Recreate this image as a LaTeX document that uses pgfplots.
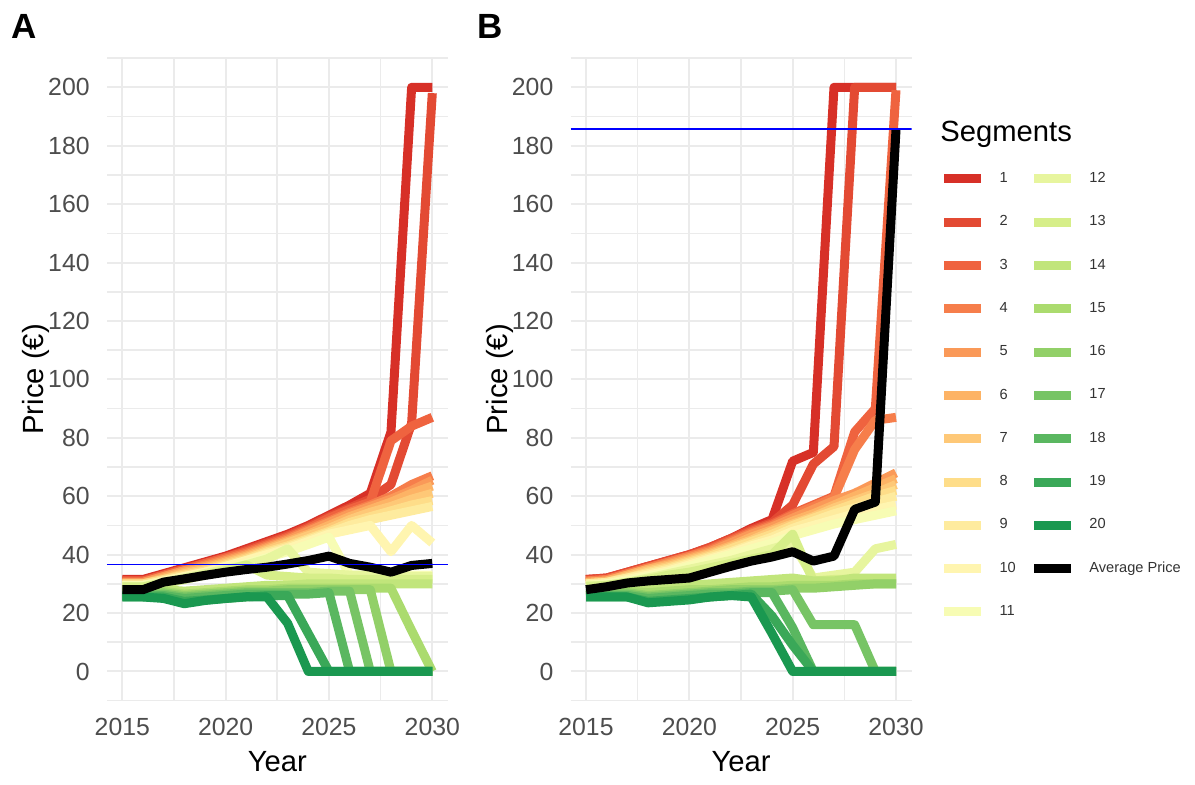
\documentclass[border=0pt]{standalone}
\usepackage{pgfplots}
\pgfplotsset{compat=1.18}
\usepackage{pgfplotstable}
\usepackage{fontspec}
\setmainfont{Liberation Sans}

\definecolor{c1}{HTML}{D73027}
\definecolor{c2}{HTML}{E34A33}
\definecolor{c3}{HTML}{EF633F}
\definecolor{c4}{HTML}{F67E4B}
\definecolor{c5}{HTML}{FA9958}
\definecolor{c6}{HTML}{FDB365}
\definecolor{c7}{HTML}{FEC877}
\definecolor{c8}{HTML}{FEDD89}
\definecolor{c9}{HTML}{FEEB9E}
\definecolor{c10}{HTML}{FFF5B0}
\definecolor{c11}{HTML}{F7FCB4}
\definecolor{c12}{HTML}{E7F59E}
\definecolor{c13}{HTML}{D6EE89}
\definecolor{c14}{HTML}{C1E57B}
\definecolor{c15}{HTML}{ABDB6E}
\definecolor{c16}{HTML}{92D068}
\definecolor{c17}{HTML}{77C465}
\definecolor{c18}{HTML}{5AB760}
\definecolor{c19}{HTML}{3AA858}
\definecolor{c20}{HTML}{1A9850}
\definecolor{gridc}{HTML}{EBEBEB}
\definecolor{tickc}{HTML}{4D4D4D}
\definecolor{legc}{HTML}{333333}

\pgfplotstableread{
year s1 s2 s3 s4 s5 s6 s7 s8 s9 s10 s11 s12 s13 s14 s15 s16 s17 s18 s19 s20 avg
2015 31.5 31 31 30.5 30.5 30 30 30 29.5 29.5 29.5 29 29 27.5 27 26.5 26 26 25.5 25.5 28
2016 31.5 31 31 30.5 30.5 30 30 30 29.5 29.5 29.5 29 29 27.5 27 26.5 26 26 25.5 25.5 28
2017 33.5 33 33 32.5 32.5 32 31.5 31.5 31 31 30.5 30.5 30 28 27.5 27 26.5 26 25.5 25 30.6
2018 35.5 35 35 34.5 34.5 34 33.5 33 32.5 32.5 32 32 31.5 27.5 26.5 26 25.5 25 24 23.2 31.7
2019 37.5 37 37 36.5 36 35.5 35 34.5 34 34 33.5 33.5 33 28 27 26.5 26 25.5 24.5 24.3 32.9
2020 39.5 39 39 38.5 38 37.5 37 36.5 36 36 35 35 34.5 28.5 27.5 27 26.5 26 25 25 34
2021 42 41.5 41 40.5 40 39.5 39 38.5 38 38 37 36.5 36.5 29 28 27.5 27 26.5 25.5 25.6 34.9
2022 44.5 44 43.5 43 42.5 42 41.5 41 40.5 40 39 38.5 33 29.5 28 27.5 27 26.5 26 25.5 35.7
2023 47 46.5 46 45.5 45 44.5 44 43 42.5 42 41 42 32.5 29.5 28.5 28 27 26.5 26 16.5 36.8
2024 50 49.5 49 48.5 48 47 46.5 45.5 45 44.5 43.5 34 32 30 28.5 28 27 26.5 13 0 38
2025 53.5 53 52.5 51.5 51 50 49 48 47.5 47 46 33.5 32 30 28.5 28 27.5 27 0 0 39.5
2026 57 56 55.5 54.5 54 53 52 51 50 48.5 33 33 31.5 30 28.5 28 27.5 0 0 0 37
2027 61 59 58 57 56.5 55.5 54.5 53 52 50 33 33 31.5 30 28.5 28 0 0 0 0 35.7
2028 82 64 79 60 59 58 56.5 55 53.5 41 33 32.5 31.5 30 28.5 0 0 0 0 0 34
2029 200 85 84 64 62 61 59 57 55 50 33 32.5 31.5 30 14 0 0 0 0 0 36.3
2030 200 198 87 67 65.5 63.5 61 58.5 56.5 44 33 32.5 31.5 30 0 0 0 0 0 0 37
}\tabA

\pgfplotstableread{
year s1 s2 s3 s4 s5 s6 s7 s8 s9 s10 s11 s12 s13 s14 s15 s16 s17 s18 s19 s20 avg
2015 31.5 31.5 31 31 30.5 30.5 30 30 30 29.5 29.5 29.5 29 28 27 26.5 26 26 25.5 25.5 28
2016 32 32 31.5 31.5 31 31 30.5 30.5 30.5 30 30 29.5 29.5 28 27 27 26.5 26 25.5 25.5 29
2017 34 34 33.5 33.5 33 33 32.5 32 32 31.5 31 30.5 30.5 28.5 27.5 27 26.5 26 25.5 25.5 30.3
2018 36 36 35.5 35.5 35 35 34.5 34 33.5 33 32.5 32 31.5 28.5 27 26 25.5 25 24 23.5 31
2019 38 38 37.5 37.5 37 36.5 36 35.5 35 34.5 34 33.5 33 29 27.5 26.5 26 25.5 24.5 24 31.5
2020 40 40 39.5 39.5 39 38.5 38 37.5 37 36.5 36 35 34 29.5 28 27 26.5 26 25 24.5 32
2021 42.5 42.5 42 41.5 41 40.5 40 39.5 39 38.5 38 36.5 35.5 30 28 27.5 27 26.5 25.5 25.5 34
2022 45.5 45.5 45 44.5 44 43 42.5 42 41 40.5 40 38 37 30.5 28.5 28 27 26.5 26 26 36
2023 49 48.5 48 47.5 47 46 45 44.5 43.5 43 42 40 38.5 31 29 28 27.5 27 26.5 25.5 37.8
2024 52 51 50.5 50 49.5 48.5 48 47 46 45 44 42 40 31.5 29 28 27.5 27 19 13 39.2
2025 72 57 54 53.5 52.5 51.5 50.5 50 49 48 46.5 44 47 32 29.5 28.5 28 15 9 0 41
2026 75 71 57 56.5 55.5 54 53 52.5 51.5 50 48.5 32 31 31 29.5 28.5 16 0 0 0 37.8
2027 200 77 60 59.5 58.5 57 56 55 54 52 50.5 33 31.5 31 29.5 29 16 0 0 0 39.5
2028 200 200 82 76 61 60 58.5 57.5 56 54 52 34 31.5 32 30 29.5 16 0 0 0 55.5
2029 200 200 90 86 64.5 63 61 60 58 55.5 53.5 42 31 32 30 30 0 0 0 0 58
2030 200 200 199 87 68 66 64 62 60 57 55 43.5 31 32 30 30 0 0 0 0 185.5
}\tabB

\pgfplotsset{
  panel/.style={
    scale only axis, width=170.5pt, height=321.3pt,
    xmin=2014.25, xmax=2030.75, ymin=-10, ymax=210,
    xtick={2015,2020,2025,2030}, minor xtick={2017.5,2022.5,2027.5},
    ytick={0,20,...,200}, minor ytick={-10,10,...,210},
    grid=both,
    major grid style={line width=1pt, color=gridc},
    minor grid style={line width=0.8pt, color=gridc},
    axis line style={draw=none},
    major tick length=0pt, minor tick length=0pt,
    /pgf/number format/1000 sep={},
    /pgf/number format/assume math mode=true,
    ticklabel style={font=\fontsize{12.4}{14}\selectfont, text=tickc},
    xticklabel style={anchor=base, yshift=-17.2pt},
    yticklabel style={anchor=east, inner sep=0pt, xshift=-8.4pt},
    xlabel={Year}, ylabel={Price (€)},
    label style={font=\fontsize{14.6}{17}\selectfont},
    xlabel style={at={(axis description cs:0.5,-0.1105)}, anchor=base},
    ylabel style={at={(axis description cs:-0.208,0.5)}, anchor=center},
    no markers,
    every axis plot/.append style={line width=4.5pt, line join=round},
  }
}

\begin{document}
\begin{tikzpicture}
\path[use as bounding box] (0,0) rectangle (597.5pt,392.5pt);

\begin{axis}[panel, name=A, at={(53.4pt,42.15pt)}, anchor=south west]
\pgfplotsinvokeforeach{1,...,20}{\addplot[c#1] table[x=year,y=s#1]{\tabA};}
\addplot[black] table[x=year,y=avg]{\tabA};
\addplot[blue, line width=0.75pt] coordinates {(2014.25,36.6) (2030.75,36.6)};
\end{axis}

\begin{axis}[panel, name=B, at={(285.25pt,42.15pt)}, anchor=south west,
  legend columns=2,
  legend cell align=left,
  legend style={draw=none, fill=none, at={(1.083,0.8456)}, anchor=north west,
    inner sep=0pt, outer sep=0pt, row sep=0pt, column sep=6.9pt,
    font=\fontsize{7.3}{8}\selectfont, text=legc,
    nodes={inner sep=0pt, minimum height=21.65pt}},
  legend image code/.code={\draw[#1, line width=4.5pt] (0pt,0pt) -- (18.5pt,0pt);},
]
\pgfplotsinvokeforeach{1,...,20}{\addplot[c#1, forget plot] table[x=year,y=s#1]{\tabB};}
\addplot[black, forget plot] table[x=year,y=avg]{\tabB};
\addplot[blue, line width=0.75pt, forget plot] coordinates {(2014.25,185.7) (2030.75,185.7)};
\addlegendimage{c1}\addlegendentry{1}
\addlegendimage{c12}\addlegendentry{12}
\addlegendimage{c2}\addlegendentry{2}
\addlegendimage{c13}\addlegendentry{13}
\addlegendimage{c3}\addlegendentry{3}
\addlegendimage{c14}\addlegendentry{14}
\addlegendimage{c4}\addlegendentry{4}
\addlegendimage{c15}\addlegendentry{15}
\addlegendimage{c5}\addlegendentry{5}
\addlegendimage{c16}\addlegendentry{16}
\addlegendimage{c6}\addlegendentry{6}
\addlegendimage{c17}\addlegendentry{17}
\addlegendimage{c7}\addlegendentry{7}
\addlegendimage{c18}\addlegendentry{18}
\addlegendimage{c8}\addlegendentry{8}
\addlegendimage{c19}\addlegendentry{19}
\addlegendimage{c9}\addlegendentry{9}
\addlegendimage{c20}\addlegendentry{20}
\addlegendimage{c10}\addlegendentry{10}
\addlegendimage{black}\addlegendentry{Average Price}
\addlegendimage{c11}\addlegendentry{11}
\end{axis}

\node[anchor=base west, font=\bfseries\fontsize{17.5}{20}\selectfont] at ([xshift=-51.4pt,yshift=9.9pt]A.north west) {A};
\node[anchor=base west, font=\bfseries\fontsize{17.5}{20}\selectfont] at ([xshift=-50.25pt,yshift=9.9pt]B.north west) {B};
\node[anchor=base west, inner sep=0pt, font=\fontsize{14.6}{17}\selectfont] at ([xshift=184.75pt,yshift=-41.8pt]B.north west) {Segments};
\end{tikzpicture}
\end{document}
